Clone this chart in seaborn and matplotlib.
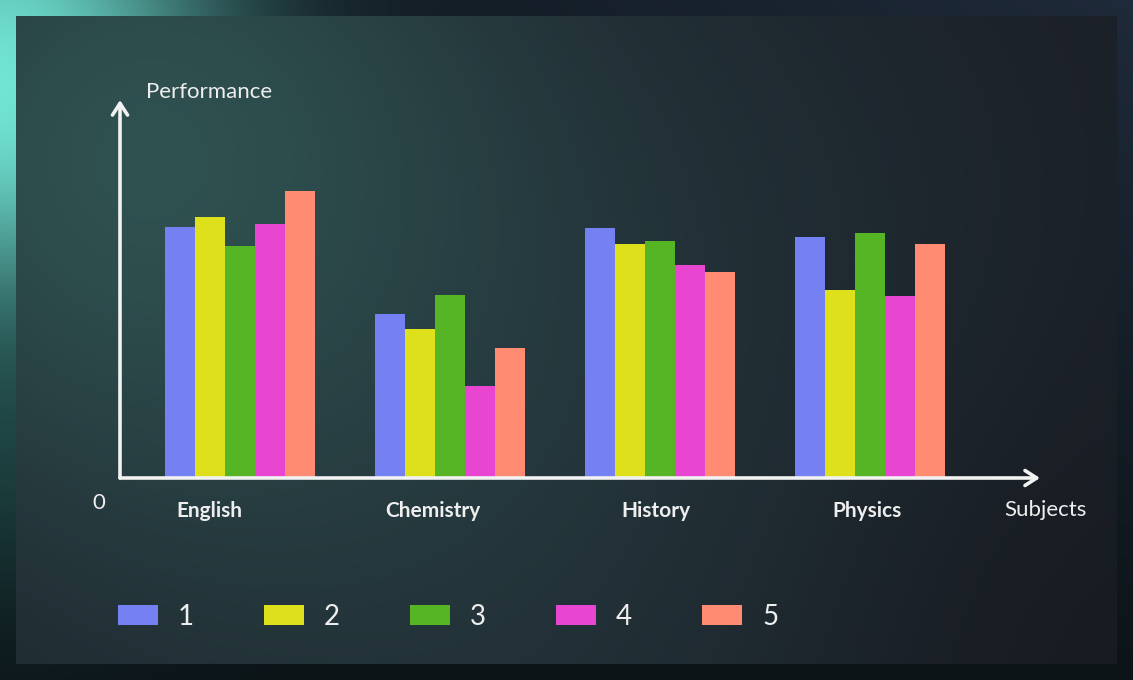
import numpy as np
import pandas as pd
import matplotlib
matplotlib.use("Agg")
import matplotlib.pyplot as plt
import seaborn as sns

# ---- data ----
subjects = ["English", "Chemistry", "History", "Physics"]
series = ["1", "2", "3", "4", "5"]
s1 = [66.4, 43.4, 66.1, 63.8]
s2 = [69.0, 39.4, 61.9, 49.7]
s3 = [61.4, 48.4, 62.7, 64.8]
s4 = [67.2, 24.3, 56.3, 48.1]
s5 = [75.9, 34.4, 54.5, 61.9]
colors = ["#7580F2", "#DDE01A", "#55B524", "#E845D0", "#FF8C72"]

rows = []
for name, vals in zip(series, [s1, s2, s3, s4, s5]):
    for subj, v in zip(subjects, vals):
        rows.append({"Subject": subj, "Series": name, "Value": v})
df = pd.DataFrame(rows)

sns.set_theme(style="white")
plt.rcParams["font.family"] = ["Lato", "DejaVu Sans"]

W, H = 1133, 680
fig = plt.figure(figsize=(W / 100, H / 100), dpi=100)

# ---- background image ----
yy, xx = np.mgrid[0:H, 0:W].astype(float)

def glow(cx, cy, sx, sy=None):
    sy = sx if sy is None else sy
    return np.exp(-((xx - cx) ** 2 / (2 * sx ** 2) + (yy - cy) ** 2 / (2 * sy ** 2)))[..., None]

def c(h):
    h = h.lstrip("#")
    return np.array([int(h[i:i + 2], 16) / 255 for i in (0, 2, 4)])

img = np.ones((H, W, 3)) * c("#0c1418")
tr = np.clip(xx / W, 0, 1)[..., None] * np.clip(1 - yy / H, 0, 1)[..., None]
img = img + (c("#1f2a3a") - img) * tr
img = img + (c("#72e6d6") - img) * glow(0, 90, 150, 190)
img = img + (c("#1e4a48") - img) * glow(0, 430, 120, 120) * 0.6

inner = np.ones((H, W, 3)) * c("#1a1c25")
inner = inner + (c("#24363c") - inner) * glow(480, 430, 420) * 0.9
inner = inner + (c("#2f5150") - inner) * glow(150, 160, 260)
inner = inner + (c("#15161c") - inner) * glow(1133, 680, 250) * 0.6
mask = (xx >= 16) & (xx < 1117) & (yy >= 16) & (yy < 664)
img[mask] = inner[mask]

bg = fig.add_axes([0, 0, 1, 1], zorder=-10)
bg.imshow(np.clip(img, 0, 1), extent=[0, 1, 0, 1], aspect="auto", origin="upper")
bg.axis("off")

# ---- main axes ----
x0, x1, yb, yt = 120, 1040, 478, 100
ax = fig.add_axes([x0 / W, (H - yb) / H, (x1 - x0) / W, (yb - yt) / H])
ax.patch.set_alpha(0)

sns.barplot(data=df, x="Subject", y="Value", hue="Series", palette=colors,
            width=150 / 210, gap=0, saturation=1, ax=ax, legend=True,
            edgecolor="none", linewidth=0)

ax.set_xlim(-120 / 210, 3 + 170 / 210)
ax.set_ylim(0, 100)
for sp in ax.spines.values():
    sp.set_visible(False)
ax.set_yticks([])
ax.set_xticks([])
ax.set_xlabel("")
ax.set_ylabel("")

# axis arrows
arrow_kw = dict(arrowstyle="->,head_length=0.7,head_width=0.45", color="#f2f2f2",
                lw=2.6, shrinkA=0, shrinkB=0)
ax.annotate("", xy=(1, 0), xytext=(0, 0), xycoords="axes fraction",
            arrowprops=arrow_kw, annotation_clip=False)
ax.annotate("", xy=(0, 1), xytext=(0, 0), xycoords="axes fraction",
            arrowprops=arrow_kw, annotation_clip=False)

# category labels (slightly left of group centres as in the reference)
offsets = [-31, -17, -4, -3]
for i, (subj, off) in enumerate(zip(subjects, offsets)):
    ax.annotate(subj, xy=(i, 0), xycoords=("data", "axes fraction"),
                xytext=(off * 0.72, -33 * 0.72), textcoords="offset points",
                ha="center", va="center", fontsize=15, fontweight="bold",
                color="#eeeeee", annotation_clip=False)

txt = dict(color="#eeeeee", fontsize=16)
fig.text(146 / W, 1 - 92 / H, "Performance", ha="left", va="center", **txt)
fig.text(1004 / W, 1 - 510 / H, "Subjects", ha="left", va="center", **txt)
fig.text(99 / W, 1 - 503 / H, "0", ha="center", va="center", **txt)

# legend
handles, labels = ax.get_legend_handles_labels()
ax.get_legend().remove()
fs = 20
px = fs * 100 / 72
fig.legend(handles, labels, loc="center left", bbox_to_anchor=(118 / W, 1 - 617 / H),
           ncol=5, frameon=False, fontsize=fs, labelcolor="#eeeeee",
           handlelength=40 / px, handleheight=20 / px,
           handletextpad=20 / px, columnspacing=70 / px, borderaxespad=0, borderpad=0)

fig.savefig("out.png", dpi=100)
